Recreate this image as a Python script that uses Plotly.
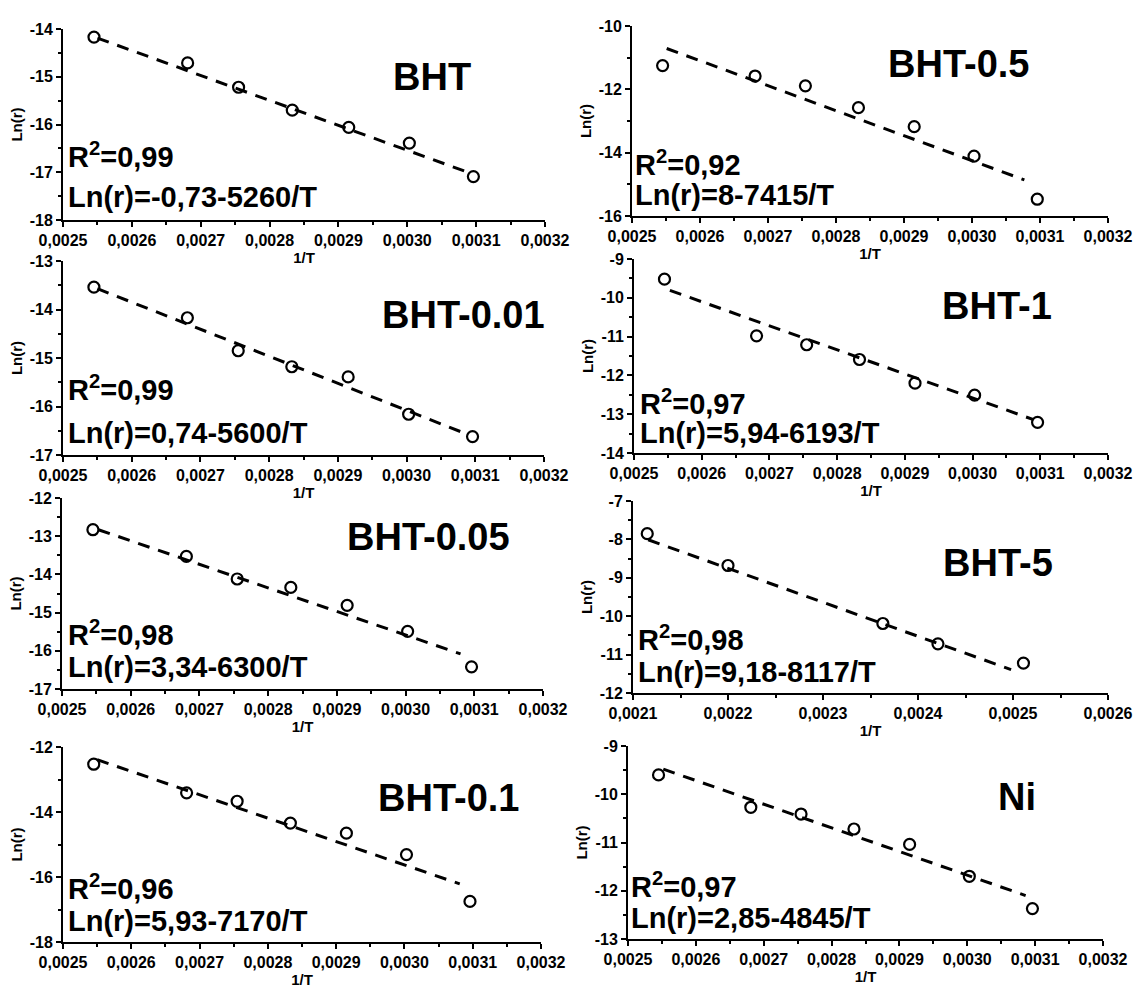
import plotly.graph_objects as go

# 1/T values (K^-1)
inv_T = [0.002545, 0.002681, 0.002755, 0.002833, 0.002915, 0.003003, 0.003096]
inv_T_bht5 = [0.002115, 0.0022, 0.002363, 0.002421, 0.002511]

# Ln(r) values
ln_bht = [-14.17, -14.71, -15.22, -15.70, -16.06, -16.39, -17.09]
ln_bht05 = [-11.25, -11.58, -11.89, -12.58, -13.18, -14.11, -15.47]
ln_bht001 = [-13.54, -14.17, -14.85, -15.18, -15.39, -16.16, -16.62]
ln_bht1 = [-9.52, -10.98, -11.21, -11.59, -12.20, -12.51, -13.21]
ln_bht005 = [-12.83, -13.53, -14.12, -14.34, -14.81, -15.49, -16.42]
ln_bht5 = [-7.85, -8.68, -10.19, -10.72, -11.22]
ln_bht01 = [-12.53, -13.41, -13.67, -14.34, -14.65, -15.31, -16.75]
ln_ni = [-9.60, -10.27, -10.41, -10.72, -11.04, -11.70, -12.37]

# fitted line end points (x start, x end), (y start, y end)
fit_bht = ([0.00255, 0.003086], [-14.19, -16.99])
fit_bht05 = ([0.002551, 0.003077], [-10.71, -14.86])
fit_bht001 = ([0.00255, 0.003079], [-13.57, -16.52])
fit_bht1 = ([0.002553, 0.00309], [-9.81, -13.14])
fit_bht005 = ([0.002553, 0.00308], [-12.83, -16.08])
fit_bht5 = ([0.002116, 0.002498], [-8.01, -11.39])
fit_bht01 = ([0.00255, 0.003081], [-12.39, -16.21])
fit_ni = ([0.002552, 0.003086], [-9.48, -12.10])

names = ["BHT", "BHT-0.5", "BHT-0.01", "BHT-1", "BHT-0.05", "BHT-5", "BHT-0.1", "Ni"]
r2_text = ["0,99", "0,92", "0,99", "0,97", "0,98", "0,98", "0,96", "0,97"]
eq_text = ["Ln(r)=-0,73-5260/T", "Ln(r)=8-7415/T", "Ln(r)=0,74-5600/T", "Ln(r)=5,94-6193/T",
           "Ln(r)=3,34-6300/T", "Ln(r)=9,18-8117/T", "Ln(r)=5,93-7170/T", "Ln(r)=2,85-4845/T"]

xtick_std = [0.0025, 0.0026, 0.0027, 0.0028, 0.0029, 0.0030, 0.0031, 0.0032]
xtick_std_text = ["0,0025", "0,0026", "0,0027", "0,0028", "0,0029", "0,0030", "0,0031", "0,0032"]
xtick_bht5 = [0.0021, 0.0022, 0.0023, 0.0024, 0.0025, 0.0026]
xtick_bht5_text = ["0,0021", "0,0022", "0,0023", "0,0024", "0,0025", "0,0026"]

yticks = [
    [-18, -17, -16, -15, -14],
    [-16, -14, -12, -10],
    [-17, -16, -15, -14, -13],
    [-14, -13, -12, -11, -10, -9],
    [-17, -16, -15, -14, -13, -12],
    [-12, -11, -10, -9, -8, -7],
    [-18, -16, -14, -12],
    [-13, -12, -11, -10, -9],
]

xs = [inv_T, inv_T, inv_T, inv_T, inv_T, inv_T_bht5, inv_T, inv_T]
ys = [ln_bht, ln_bht05, ln_bht001, ln_bht1, ln_bht005, ln_bht5, ln_bht01, ln_ni]
fits = [fit_bht, fit_bht05, fit_bht001, fit_bht1, fit_bht005, fit_bht5, fit_bht01, fit_ni]

W, H = 1134, 990
# plot-area boxes in pixels: x0, x1, y0 (top), y1 (bottom)
boxes = [
    (63, 545, 29, 220), (632, 1108, 26, 216),
    (63, 544, 261, 455), (634, 1108, 259, 453),
    (62, 543, 498, 689), (633, 1108, 501, 693),
    (63, 541, 747, 942), (628, 1103, 746, 939),
]
title_pos = [(432, 77), (958, 64), (463, 315), (997, 306),
             (428, 537), (998, 563), (448, 798), (1017, 797)]
r2_pos = [(66, 155, 197), (633, 163, 195), (66, 388, 433), (638, 402, 433),
          (66, 633, 667), (636, 638, 672), (66, 887, 921), (629, 885, 918)]

FONT = "Liberation Sans"
TICK = "<span style='font-size:16px'><b>%s</b></span>"
fig = go.Figure()
annotations = []
layout = {}

for i in range(8):
    n = "" if i == 0 else str(i + 1)
    xa, ya = "x" + n, "y" + n

    fx, fy = fits[i]
    fig.add_trace(go.Scatter(x=fx, y=fy, mode="lines", xaxis=xa, yaxis=ya,
                             line=dict(color="black", width=3, dash="12px,9px"),
                             showlegend=False))
    fig.add_trace(go.Scatter(x=xs[i], y=ys[i], mode="markers", xaxis=xa, yaxis=ya,
                             marker=dict(symbol="circle-open", size=11, color="black",
                                         line=dict(width=2.2, color="black")),
                             showlegend=False))

    x0, x1, y0, y1 = boxes[i]
    if i == 5:
        xt, xtt, xr = xtick_bht5, xtick_bht5_text, [0.0021, 0.0026]
    else:
        xt, xtt, xr = xtick_std, xtick_std_text, [0.0025, 0.0032]
    yt = yticks[i]
    ystep = yt[1] - yt[0]

    layout["xaxis" + n] = dict(
        domain=[x0 / W, x1 / W], anchor=ya, range=xr,
        tickmode="array", tickvals=xt, ticktext=[TICK % t for t in xtt],
        ticks="outside", ticklen=5, tickwidth=2, tickcolor="black",
        minor=dict(tickmode="linear", tick0=xr[0], dtick=0.00005,
                   ticks="outside", ticklen=3, tickwidth=1.5, tickcolor="black"),
        showline=True, linecolor="black", linewidth=2, mirror=False,
        showgrid=False, zeroline=False, automargin=False,
        tickfont=dict(family=FONT, size=16, color="black"),
        title=dict(text="<span style='font-size:15px'><b>1/T</b></span>", standoff=4,
                   font=dict(family=FONT, size=15, color="black")),
    )
    layout["yaxis" + n] = dict(
        domain=[1 - y1 / H, 1 - y0 / H], anchor=xa, range=[yt[0], yt[-1]],
        tickmode="array", tickvals=yt, ticktext=[TICK % v for v in yt],
        ticks="outside", ticklen=5, tickwidth=2, tickcolor="black",
        minor=dict(tickmode="linear", tick0=yt[0], dtick=ystep / 2,
                   ticks="outside", ticklen=3, tickwidth=1.5, tickcolor="black"),
        showline=True, linecolor="black", linewidth=2,
        showgrid=False, zeroline=False, automargin=False,
        tickfont=dict(family=FONT, size=16, color="black"),
        title=dict(text="<span style='font-size:15px'><b>Ln(r)</b></span>", standoff=3,
                   font=dict(family=FONT, size=15, color="black")),
    )

    tx, ty = title_pos[i]
    annotations.append(dict(text="<b>%s</b>" % names[i], x=tx / W, y=1 - ty / H,
                            xref="paper", yref="paper", xanchor="center", yanchor="middle",
                            showarrow=False, font=dict(family=FONT, size=38, color="black")))
    lx, ry, ey = r2_pos[i]
    annotations.append(dict(text="<b>R<sup>2</sup>=%s</b>" % r2_text[i], x=lx / W, y=1 - ry / H,
                            xref="paper", yref="paper", xanchor="left", yanchor="middle",
                            showarrow=False, font=dict(family=FONT, size=29, color="black")))
    annotations.append(dict(text="<b>%s</b>" % eq_text[i], x=lx / W, y=1 - ey / H,
                            xref="paper", yref="paper", xanchor="left", yanchor="middle",
                            showarrow=False, font=dict(family=FONT, size=29, color="black")))

fig.update_layout(
    width=W, height=H, autosize=False,
    margin=dict(l=0, r=0, t=0, b=0, pad=0),
    font=dict(family=FONT, size=16, color="black"),
    paper_bgcolor="white", plot_bgcolor="white",
    annotations=annotations,
    **layout,
)

fig.write_html("out.html", config={"displayModeBar": False},
               post_script="document.body.style.margin='0';")
